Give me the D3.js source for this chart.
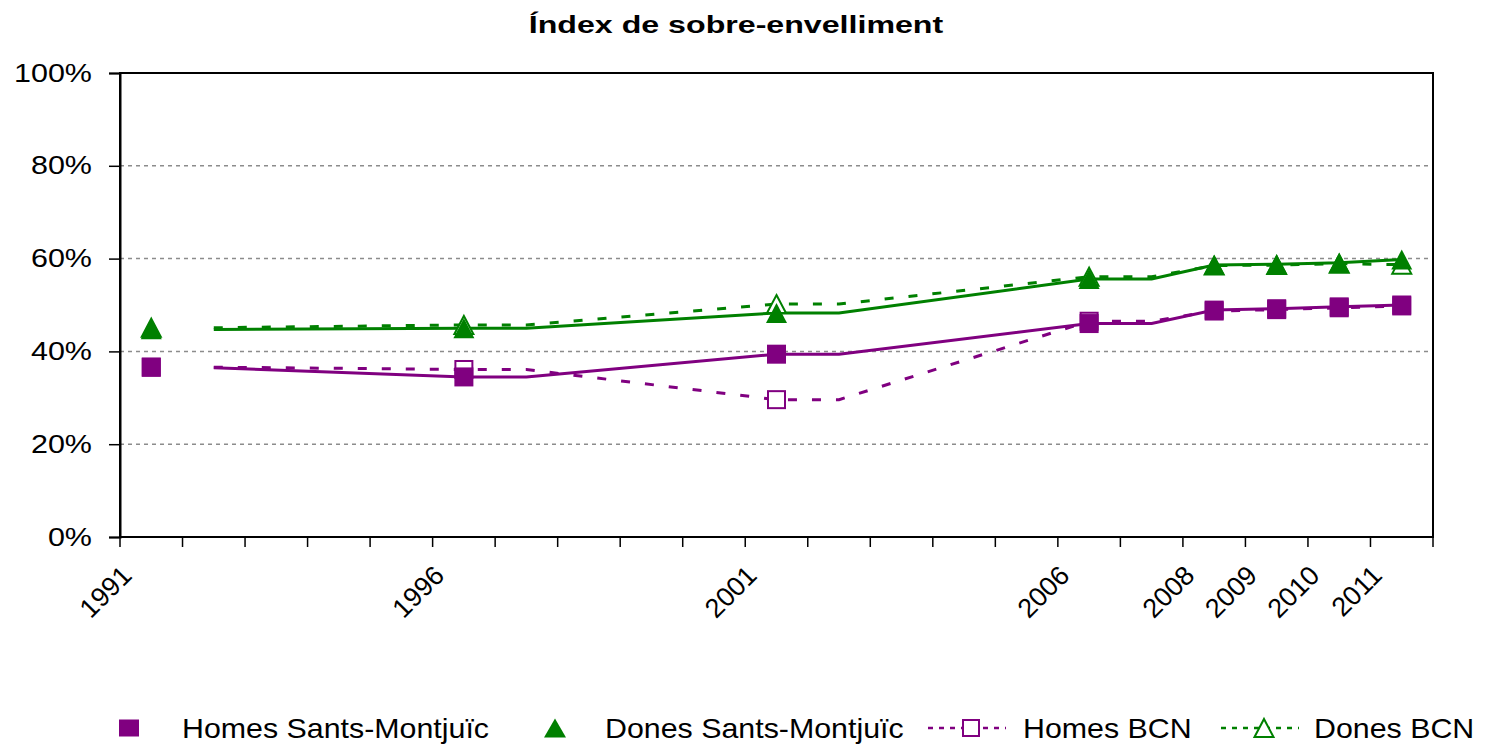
<!DOCTYPE html>
<html>
<head>
<meta charset="utf-8">
<script src="https://cdn.jsdelivr.net/npm/d3@7"></script>
<style>
  body { margin: 0; background: #fff; }
  text { font-family: "Liberation Sans", Arial, sans-serif; fill: #000; }
</style>
</head>
<body>
<div id="chart"></div>
<script>
// categories on the x axis (one slot per year)
const categories = [1991, 1992, 1993, 1994, 1995, 1996, 1997, 1998, 1999, 2000, 2001,
                    2002, 2003, 2004, 2005, 2006, 2007, 2008, 2009, 2010, 2011];
const labeledYears = [1991, 1996, 2001, 2006, 2008, 2009, 2010, 2011];
const yTicks = [0, 20, 40, 60, 80, 100];

// marker values (%), one per labeled year
const markerYears = [1991, 1996, 2001, 2006, 2008, 2009, 2010, 2011];
const homesSM  = [36.6, 34.5, 39.4, 46.0, 48.9, 49.2, 49.6, 50.0];
const donesSM  = [44.8, 45.0, 48.3, 55.6, 58.6, 58.8, 59.1, 59.8];
const homesBCN = [36.6, 36.1, 29.6, 46.5, 48.7, 49.0, 49.4, 49.8];
const donesBCN = [45.1, 45.7, 50.2, 56.1, 58.5, 58.6, 58.9, 58.7];

// line vertices (%), as drawn in the picture
const lineYears     = [1992, 1996, 1997, 2001, 2002, 2006, 2007, 2008, 2009, 2010, 2011];
const homesSMLine   = [36.5, 34.5, 34.5, 39.4, 39.4, 46.0, 46.0, 48.9, 49.2, 49.6, 50.0];
const donesSMLine   = [44.7, 45.0, 45.0, 48.3, 48.3, 55.6, 55.6, 58.6, 58.8, 59.1, 59.8];
const homesBCNLine  = [36.6, 36.1, 36.1, 29.6, 29.6, 46.5, 46.5, 48.7, 49.0, 49.4, 49.8];
const donesBCNLine  = [45.1, 45.7, 45.7, 50.2, 50.2, 56.1, 56.1, 58.5, 58.6, 58.9, 58.7];

const PURPLE = "#800080", GREEN = "#008000";

const width = 1486, height = 747;
const margin = { top: 73, right: 53, bottom: 210, left: 120 };

const svg = d3.select("#chart").append("svg")
    .attr("width", width)
    .attr("height", height);

const x = d3.scaleBand()
    .domain(categories)
    .range([margin.left, width - margin.right])
    .padding(0);
const cx = d => x(d) + x.bandwidth() / 2;

const y = d3.scaleLinear()
    .domain([0, 100])
    .range([height - margin.bottom, margin.top]);

// stretched text helper (the original text is wider than the font)
function label(g, str, px, py, size, sx, opts = {}) {
    return g.append("text")
        .attr("transform", `translate(${px},${py}) scale(${sx},1)`)
        .attr("font-size", size)
        .attr("font-weight", opts.bold ? "bold" : null)
        .attr("text-anchor", opts.anchor || "start")
        .text(str);
}

// title
label(svg, "Índex de sobre-envelliment", 736, 33, 24, 1.34, { bold: true, anchor: "middle" });

// grid
svg.append("g")
    .selectAll("line")
    .data(yTicks.filter(d => d > 0))
    .join("line")
    .attr("x1", x.range()[0]).attr("x2", x.range()[1])
    .attr("y1", d => y(d)).attr("y2", d => y(d))
    .attr("stroke", "#8c8c8c")
    .attr("stroke-width", 1.5)
    .attr("stroke-dasharray", "4,4");

// y axis
const yAxis = svg.append("g")
    .attr("transform", `translate(${margin.left},0)`)
    .call(d3.axisLeft(y).tickValues(yTicks).tickSize(11).tickFormat(d => d + "%"));
yAxis.select(".domain").attr("stroke", "#000").attr("stroke-width", 2);
yAxis.selectAll(".tick line").attr("stroke", "#000").attr("stroke-width", 1.5);
yAxis.selectAll(".tick text")
    .attr("font-size", 25)
    .attr("font-family", "Liberation Sans, Arial, sans-serif")
    .attr("x", -23)
    .attr("transform", "scale(1.22,1)");

// plot border
svg.append("rect")
    .attr("x", x.range()[0]).attr("y", y(100))
    .attr("width", x.range()[1] - x.range()[0])
    .attr("height", y(0) - y(100))
    .attr("fill", "none")
    .attr("stroke", "#000")
    .attr("stroke-width", 2);

// x axis ticks at category boundaries
const bounds = categories.map(d => x(d)).concat([x.range()[1]]);
svg.append("g")
    .selectAll("line")
    .data(bounds)
    .join("line")
    .attr("x1", d => d).attr("x2", d => d)
    .attr("y1", y(0)).attr("y2", y(0) + 10)
    .attr("stroke", "#000")
    .attr("stroke-width", 1.5);

svg.append("g")
    .selectAll("text")
    .data(labeledYears)
    .join("text")
    .attr("transform", d => `translate(${cx(d) - 18},${y(0) + 40}) rotate(-45)`)
    .attr("text-anchor", "end")
    .attr("font-size", 27)
    .text(d => d);

// lines
const line = d3.line()
    .x(d => cx(d[0]))
    .y(d => y(d[1]));

const lineSeries = [
    { vals: homesBCNLine, color: PURPLE, dash: "9,15" },
    { vals: donesBCNLine, color: GREEN,  dash: "9,15" },
    { vals: homesSMLine,  color: PURPLE, dash: null },
    { vals: donesSMLine,  color: GREEN,  dash: null }
];
svg.append("g")
    .selectAll("path")
    .data(lineSeries)
    .join("path")
    .attr("d", s => line(lineYears.map((yr, i) => [yr, s.vals[i]])))
    .attr("fill", "none")
    .attr("stroke", s => s.color)
    .attr("stroke-width", 3)
    .attr("stroke-dasharray", s => s.dash);

// markers
const tri = (w, h) => `M0,${-h / 2}L${w / 2},${h / 2}L${-w / 2},${h / 2}Z`;

function squares(vals, size, filled, color) {
    svg.append("g")
        .selectAll("rect")
        .data(markerYears.map((yr, i) => [yr, vals[i]]))
        .join("rect")
        .attr("x", d => cx(d[0]) - size / 2)
        .attr("y", d => y(d[1]) - size / 2)
        .attr("width", size).attr("height", size)
        .attr("fill", filled ? color : "#fff")
        .attr("stroke", color)
        .attr("stroke-width", filled ? 0 : 2);
}
function triangles(vals, w, h, filled, color) {
    svg.append("g")
        .selectAll("path")
        .data(markerYears.map((yr, i) => [yr, vals[i]]))
        .join("path")
        .attr("transform", d => `translate(${cx(d[0])},${y(d[1])})`)
        .attr("d", tri(w, h))
        .attr("fill", filled ? color : "#fff")
        .attr("stroke", color)
        .attr("stroke-width", filled ? 0 : 2);
}

squares(homesBCN, 17, false, PURPLE);
triangles(donesBCN, 19, 18, false, GREEN);
squares(homesSM, 19, true, PURPLE);
triangles(donesSM, 21, 20, true, GREEN);

// legend
const lg = svg.append("g");
const ly = 728;
lg.append("rect").attr("x", 119).attr("y", ly - 8.5).attr("width", 20).attr("height", 17).attr("fill", PURPLE);
label(lg, "Homes Sants-Montjuïc", 182, 738, 27, 1.125);

lg.append("path").attr("transform", `translate(555,${ly})`).attr("d", tri(22, 19)).attr("fill", GREEN);
label(lg, "Dones Sants-Montjuïc", 605, 738, 27, 1.125);

lg.append("line").attr("x1", 928).attr("x2", 1006).attr("y1", ly).attr("y2", ly)
    .attr("stroke", PURPLE).attr("stroke-width", 2.5).attr("stroke-dasharray", "5,6");
lg.append("rect").attr("x", 971 - 8).attr("y", ly - 8).attr("width", 16).attr("height", 16)
    .attr("fill", "#fff").attr("stroke", PURPLE).attr("stroke-width", 2);
label(lg, "Homes BCN", 1023, 738, 27, 1.125);

lg.append("line").attr("x1", 1221).attr("x2", 1299).attr("y1", ly).attr("y2", ly)
    .attr("stroke", GREEN).attr("stroke-width", 2.5).attr("stroke-dasharray", "5,6");
lg.append("path").attr("transform", `translate(1264,${ly})`).attr("d", tri(19, 18))
    .attr("fill", "#fff").attr("stroke", GREEN).attr("stroke-width", 2);
label(lg, "Dones BCN", 1314, 738, 27, 1.125);
</script>
</body>
</html>
